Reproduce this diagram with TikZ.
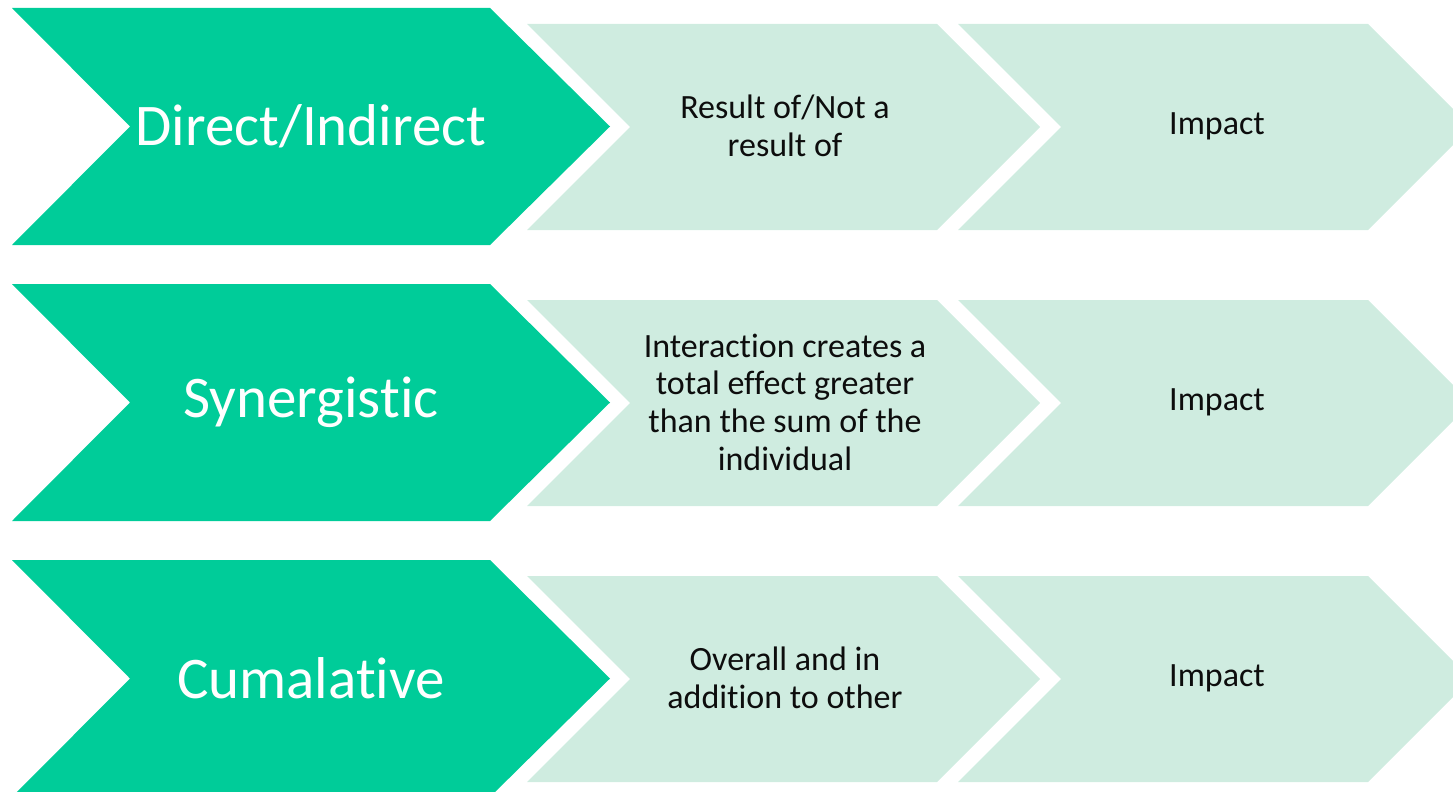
\documentclass[tikz,border=0pt]{standalone}
\usepackage{fontspec}
\setmainfont{Carlito}[Ligatures={NoCommon}]
\definecolor{darkgreen}{HTML}{00CC99}
\definecolor{lightgreen}{HTML}{CFECE0}
\begin{document}
\begin{tikzpicture}[x=1pt,y=-1pt,
  bigchev/.pic={\fill[darkgreen] (0,0) -- (478,0) -- (598,118.5) -- (478,237) -- (0,237) -- (118,118.5) -- cycle;},
  lightchev/.pic={\fill[lightgreen] (0,0) -- (410,0) -- (513,103) -- (410,206) -- (0,206) -- (103,103) -- cycle;},
  bigtxt/.style={text=white, font=\fontsize{59}{70}\selectfont, inner sep=0pt},
  smalltxt/.style={text=black!95, font=\fontsize{34}{37.7}\selectfont, align=center, inner sep=0pt}]
\clip (0,0) rectangle (1453,792);
\foreach \y in {0,276,552}{
  \pic at (12,8+\y) {bigchev};
  \pic at (527,24+\y) {lightchev};
  \pic at (958,24+\y) {lightchev};
}
\node[bigtxt] (b1) at (311,126) {Direct/Indirect};
\node[bigtxt] (b2) at (311,402) {Synergistic};
\node[bigtxt] (b3) at (311,678) {Cumalative};
\node[smalltxt] (m1) at (785,126) {Result of/Not a\\result of};
\node[smalltxt] (m2) at (785,402) {Interaction creates a\\total effect greater\\than the sum of the\\individual};
\node[smalltxt] (m3) at (785,678) {Overall and in\\addition to other};
\node[smalltxt] (i1) at (1217,126) {Impact};
\node[smalltxt] (i2) at (1217,402) {Impact};
\node[smalltxt] (i3) at (1217,678) {Impact};
\end{tikzpicture}
\end{document}
